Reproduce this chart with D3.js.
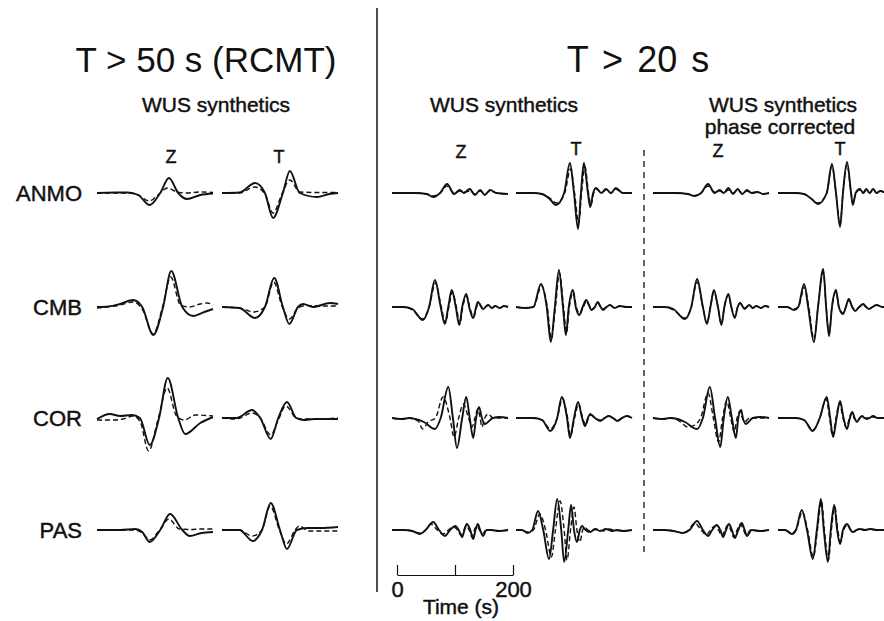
<!DOCTYPE html>
<html>
<head>
<meta charset="utf-8">
<script src="https://cdn.jsdelivr.net/npm/d3@7"></script>
<style>
  body { margin: 0; background: #fff; }
  svg { display: block; }
  text { font-family: "Liberation Sans", Arial, Helvetica, sans-serif; fill: #111; }
  .heavy { stroke: #111; stroke-width: 0.45px; }
</style>
</head>
<body>
<svg id="fig" width="884" height="621"></svg>
<script>
// Stations (rows) and components (columns within each group)
const stations = ["ANMO", "CMB", "COR", "PAS"];
const components = ["Z", "T"];
const scaleTicks = [0, 100, 200];
const scaleTickLabels = ["0", "", "200"];

// Waveform samples: [time (s), amplitude]; "obs" = data (solid), "syn" = synthetic (dashed)

// ---- T > 50 s (RCMT), WUS synthetics ----
const ANMO_Z_50_obs = [[0,0],[31,0.5],[53,0.5],[71,-2],[91,-12],[109,0],[124,15],[140,0],[155,-6],[178,-2],[200,-0.5]];
const ANMO_Z_50_syn = [[0,0],[31,0],[53,0],[71,-2],[90,-8],[107,-1],[122,5],[138,1],[155,0],[178,1],[200,0.5]];
const ANMO_T_50_obs = [[0,0],[30,0.5],[57,10],[74,0],[88,-25],[105,0],[117,22],[134,0],[164,-4],[185,-1],[200,0]];
const ANMO_T_50_syn = [[0,0],[30,0],[57,6],[74,-1],[88,-20],[104,0],[117,13],[134,1],[164,0.5],[200,0.5]];

const CMB_Z_50_obs = [[0,0],[20,0.5],[40,3],[62,7],[78,0],[97,-28],[114,0],[128,36],[147,0],[166,-9],[185,-5],[200,-2]];
const CMB_Z_50_syn = [[0,-1],[40,2],[62,5],[78,-2],[97,-27],[113,0],[127,30],[144,2],[160,0],[178,3],[190,4],[200,2]];
const CMB_T_50_obs = [[0,0],[30,-1],[57,-11],[74,0],[90,29],[105,0],[116,-17],[131,0],[140,3],[157,0],[186,4],[200,3]];
const CMB_T_50_syn = [[0,0],[30,-1],[55,-5],[74,0],[89,25],[104,0],[116,-12],[131,-1],[145,1.5],[175,1],[200,1]];

const COR_Z_50_obs = [[0,-1],[22,4],[40,2],[60,3],[74,0],[91,-27],[107,0],[122,40],[140,0],[152,-16],[178,-5],[200,1]];
const COR_Z_50_syn = [[0,-2],[30,-2],[45,-1],[62,2],[74,-3],[89,-33],[105,-2],[121,30],[137,2],[150,-2],[170,3],[200,2]];
const COR_T_50_obs = [[0,0],[25,0],[52,8],[66,0],[84,-21],[97,0],[112,16],[128,0],[140,-2],[160,-1],[200,-1]];
const COR_T_50_syn = [[0,0],[25,-1],[52,5],[66,0],[84,-17],[97,-2],[110,12],[128,0],[140,-1],[170,-1],[200,0]];

const PAS_Z_50_obs = [[0,0],[40,0],[66,1],[78,-2],[91,-12],[109,0],[126,16],[147,0],[160,-6],[180,-3],[200,-2]];
const PAS_Z_50_syn = [[0,0],[40,0],[66,0],[78,-3],[91,-10],[108,0],[124,11],[142,1],[160,0.5],[180,1],[200,1]];
const PAS_T_50_obs = [[0,0],[30,0],[53,-11],[69,0],[84,27],[100,0],[112,-19],[129,0],[147,2],[170,2],[200,3]];
const PAS_T_50_syn = [[0,0],[30,0],[52,-6],[69,0],[83,24],[99,0],[111,-14],[126,0],[133,4],[150,-1],[200,-1]];

// ---- T > 20 s, WUS synthetics ----
const ANMO_Z_20_obs = [[0,0],[40,0],[60,-1],[71,-4],[83,0],[95,9],[107,-1],[117,3],[124,0],[134,4],[143,-2],[152,3],[160,-2],[169,3],[180,0],[200,-1]];
const ANMO_Z_20_syn = [[0,0],[40,0],[60,-1],[71,-3],[83,0],[95,7],[107,0],[117,2],[124,1],[134,2],[143,-1],[152,2],[160,-1],[169,2],[180,0],[200,-1]];
const ANMO_T_20_obs = [[0,0],[30,0],[45,-1],[58,-6],[69,-12],[83,0],[93,30],[100,0],[107,-36],[112,0],[117,30],[124,0],[128,-14],[133,0],[138,5],[147,0],[155,4],[164,0],[172,5],[184,0],[200,0]];
const ANMO_T_20_syn = [[0,0],[30,0],[45,-1],[58,-5],[70,-10],[84,0],[94,24],[101,0],[108,-30],[113,0],[119,26],[125,0],[129,-12],[134,0],[139,4],[147,0],[155,3],[164,0],[172,4],[184,0],[200,0]];

const CMB_Z_20_obs = [[0,0],[20,0],[35,-2],[53,-13],[64,0],[74,27],[84,0],[91,-17],[97,0],[103,17],[110,0],[116,-18],[121,0],[128,13],[133,0],[140,-11],[145,0],[148,5],[157,-2],[166,2],[172,-1],[178,1],[186,-1],[193,1],[200,0]];
const CMB_Z_20_syn = [[0,0],[20,0],[35,-3],[53,-12],[64,0],[75,24],[85,0],[92,-16],[98,0],[104,15],[111,0],[117,-17],[122,0],[129,11],[134,0],[141,-10],[146,0],[149,4],[157,-1],[166,2],[172,-1],[178,1],[186,-1],[193,1],[200,0]];
const CMB_T_20_obs = [[0,0],[15,-1],[30,0],[43,23],[53,0],[60,-35],[67,0],[74,37],[81,0],[86,-28],[91,0],[98,17],[103,0],[109,-8],[115,0],[121,7],[127,0],[130,-3],[136,0],[141,5],[146,0],[150,-3],[156,0],[162,2],[170,-1],[179,1],[190,0],[200,0]];
const CMB_T_20_syn = [[0,0],[15,-1],[30,0],[44,21],[54,0],[61,-32],[68,0],[75,34],[82,0],[87,-26],[92,0],[99,15],[104,0],[110,-7],[116,0],[122,6],[128,0],[131,-2],[136,0],[141,4],[146,0],[150,-2],[156,0],[162,2],[170,-1],[179,1],[190,0],[200,0]];

const COR_Z_20_obs = [[0,0],[17,-1],[30,0],[40,-1],[55,-4],[74,-11],[84,0],[97,31],[105,0],[112,-30],[121,0],[128,21],[134,0],[140,-20],[145,0],[150,11],[155,0],[160,-6],[174,0],[185,1],[200,0]];
const COR_Z_20_syn = [[0,0],[17,-1],[30,0],[45,-3],[53,-11],[62,-4],[75,0],[88,21],[100,0],[107,-19],[115,0],[123,14],[132,0],[138,-9],[143,0],[148,9],[152,0],[155,-9],[160,0],[166,4],[174,0],[200,0]];
const COR_T_20_obs = [[0,0],[30,0],[45,-2],[59,-13],[71,0],[79,21],[88,0],[93,-20],[100,0],[107,16],[114,0],[119,-8],[124,0],[128,4],[136,0],[145,-3],[153,0],[160,2],[167,0],[175,-3],[183,0],[191,2],[200,0]];
const COR_T_20_syn = [[0,0],[30,0],[45,-2],[59,-11],[71,0],[80,19],[89,0],[94,-18],[101,0],[108,14],[115,0],[120,-7],[125,0],[129,3],[136,0],[145,-2],[153,0],[160,2],[167,0],[175,-2],[183,0],[191,2],[200,0]];

const PAS_Z_20_obs = [[0,0],[20,0],[35,-1],[48,-4],[58,0],[71,8],[81,0],[91,-6],[100,0],[109,4],[115,0],[121,-7],[125,0],[129,6],[135,0],[140,-9],[144,0],[148,6],[152,0],[157,-6],[163,0],[170,0],[185,-1],[200,0]];
const PAS_Z_20_syn = [[0,0],[20,0],[35,-1],[48,-3],[58,0],[67,6],[78,0],[88,-4],[97,0],[106,3],[113,0],[119,-5],[124,0],[127,4],[133,0],[138,-7],[142,0],[146,4],[151,0],[156,-4],[162,0],[170,0],[185,-1],[200,0]];
const PAS_T_20_obs = [[0,0],[10,0],[20,-3],[28,0],[38,19],[47,0],[57,-29],[64,0],[71,31],[78,0],[83,-32],[90,0],[95,25],[100,0],[105,-12],[110,0],[114,4],[120,0],[128,-2],[136,1],[145,-1],[155,1],[165,-1],[175,0],[185,-1],[200,0]];
const PAS_T_20_syn = [[0,0],[10,0],[20,-2],[30,0],[41,16],[51,0],[61,-27],[68,0],[76,29],[83,0],[88,-30],[94,0],[100,23],[105,0],[110,-12],[115,0],[118,3],[124,0],[130,-1],[140,1],[150,-1],[160,1],[170,0],[185,-1],[200,0]];

// ---- T > 20 s, WUS synthetics phase corrected ----
const ANMO_Z_pc_obs = [[0,0],[40,0],[60,-1],[71,-3],[83,0],[95,9],[106,0],[115,3],[122,0],[130,5],[138,-1],[146,4],[154,-1],[162,3],[170,0],[180,1],[190,-1],[200,0]];
const ANMO_Z_pc_syn = [[0,0],[40,0],[60,-1],[71,-3],[83,0],[95,7],[106,1],[115,2],[122,0],[130,3],[138,0],[146,3],[154,-1],[162,2],[170,0],[180,1],[190,-1],[200,0]];
const ANMO_T_pc_obs = [[0,0],[30,0],[45,-1],[58,-6],[69,-11],[84,0],[93,29],[100,0],[107,-34],[112,0],[119,31],[126,0],[129,-12],[134,0],[141,4],[147,0],[152,4],[158,0],[164,4],[170,0],[176,2],[185,0]];
const ANMO_T_pc_syn = [[0,0],[30,0],[45,-1],[58,-6],[69,-10],[84,0],[93,27],[100,0],[107,-32],[112,0],[119,28],[126,0],[129,-11],[134,0],[141,3],[147,0],[152,3],[158,0],[164,3],[170,0],[176,2],[185,0]];

const CMB_Z_pc_obs = [[0,0],[20,0],[35,-2],[55,-12],[66,0],[76,28],[86,0],[93,-17],[99,0],[105,17],[112,0],[118,-18],[123,0],[130,13],[135,0],[141,-11],[146,0],[150,4],[158,-2],[166,2],[172,-1],[178,1],[186,-1],[193,1],[200,0]];
const CMB_Z_pc_syn = [[0,0],[20,0],[35,-3],[55,-11],[66,0],[76,25],[86,0],[93,-16],[99,0],[105,15],[112,0],[118,-17],[123,0],[130,12],[135,0],[141,-10],[146,0],[150,4],[158,-1],[166,2],[172,-1],[178,1],[186,-1],[193,1],[200,0]];
const CMB_T_pc_obs = [[0,0],[15,0],[28,-3],[35,0],[45,23],[52,0],[62,-35],[69,0],[78,38],[83,0],[88,-29],[93,0],[100,17],[105,0],[112,-7],[117,0],[122,8],[128,0],[133,-4],[140,0],[147,3],[152,0],[157,-2],[163,0],[170,2],[180,0],[185,0]];
const CMB_T_pc_syn = [[0,0],[15,0],[28,-2],[35,0],[46,20],[53,0],[62,-32],[69,0],[78,35],[83,0],[88,-27],[93,0],[100,15],[105,0],[112,-6],[117,0],[122,7],[128,0],[133,-3],[140,0],[147,2],[152,0],[157,-2],[163,0],[170,2],[180,0],[185,0]];

const COR_Z_pc_obs = [[0,0],[17,-1],[30,0],[42,-1],[55,-4],[76,-11],[86,0],[98,31],[107,0],[116,-29],[122,0],[129,21],[136,0],[143,-20],[147,0],[152,8],[155,0],[160,-6],[172,0],[185,1],[200,0]];
const COR_Z_pc_syn = [[0,0],[17,-1],[30,0],[45,-3],[60,-9],[72,-7],[82,0],[95,25],[104,0],[113,-24],[120,0],[127,17],[134,0],[140,-14],[145,0],[150,7],[154,0],[158,-4],[166,0],[200,0]];
const COR_T_pc_obs = [[0,0],[30,0],[45,-2],[60,-13],[72,0],[84,21],[90,0],[95,-19],[101,0],[107,17],[113,0],[119,-11],[124,0],[128,6],[132,0],[136,-4],[141,0],[145,2],[149,0],[153,-1],[158,0],[164,2],[172,0],[185,0]];
const COR_T_pc_syn = [[0,0],[30,0],[45,-2],[60,-12],[72,0],[83,19],[89,0],[94,-18],[100,0],[106,15],[112,0],[118,-10],[123,0],[127,5],[131,0],[136,-3],[141,0],[145,2],[150,0],[158,0],[164,1],[172,0],[185,0]];

const PAS_Z_pc_obs = [[0,0],[20,0],[35,-1],[52,-3],[63,0],[76,9],[86,0],[95,-6],[102,0],[110,5],[116,0],[121,-7],[126,0],[131,6],[136,0],[141,-8],[147,0],[153,7],[158,0],[162,-6],[170,0],[185,-1],[200,0]];
const PAS_Z_pc_syn = [[0,0],[20,0],[35,-1],[50,-3],[61,0],[72,7],[83,0],[92,-5],[99,0],[107,4],[113,0],[119,-6],[124,0],[129,5],[134,0],[139,-7],[145,0],[151,6],[156,0],[161,-5],[168,0],[185,-1],[200,0]];
const PAS_T_pc_obs = [[0,0],[12,0],[24,-4],[31,0],[41,20],[50,0],[60,-29],[67,0],[74,31],[79,0],[86,-32],[91,0],[97,25],[102,0],[107,-14],[112,0],[119,6],[125,0],[129,-2],[135,0],[141,1],[150,0],[159,1],[170,0],[185,0]];
const PAS_T_pc_syn = [[0,0],[12,0],[24,-3],[31,0],[42,18],[51,0],[61,-27],[68,0],[75,29],[80,0],[87,-30],[92,0],[98,23],[103,0],[108,-12],[113,0],[120,5],[126,0],[130,-2],[136,0],[141,1],[150,0],[159,1],[170,0],[185,0]];

// Lookup table built from the arrays above
const traceSets = {
  "50": {
    ANMO: { Z: [ANMO_Z_50_obs, ANMO_Z_50_syn], T: [ANMO_T_50_obs, ANMO_T_50_syn] },
    CMB:  { Z: [CMB_Z_50_obs,  CMB_Z_50_syn],  T: [CMB_T_50_obs,  CMB_T_50_syn] },
    COR:  { Z: [COR_Z_50_obs,  COR_Z_50_syn],  T: [COR_T_50_obs,  COR_T_50_syn] },
    PAS:  { Z: [PAS_Z_50_obs,  PAS_Z_50_syn],  T: [PAS_T_50_obs,  PAS_T_50_syn] }
  },
  "20": {
    ANMO: { Z: [ANMO_Z_20_obs, ANMO_Z_20_syn], T: [ANMO_T_20_obs, ANMO_T_20_syn] },
    CMB:  { Z: [CMB_Z_20_obs,  CMB_Z_20_syn],  T: [CMB_T_20_obs,  CMB_T_20_syn] },
    COR:  { Z: [COR_Z_20_obs,  COR_Z_20_syn],  T: [COR_T_20_obs,  COR_T_20_syn] },
    PAS:  { Z: [PAS_Z_20_obs,  PAS_Z_20_syn],  T: [PAS_T_20_obs,  PAS_T_20_syn] }
  },
  "pc": {
    ANMO: { Z: [ANMO_Z_pc_obs, ANMO_Z_pc_syn], T: [ANMO_T_pc_obs, ANMO_T_pc_syn] },
    CMB:  { Z: [CMB_Z_pc_obs,  CMB_Z_pc_syn],  T: [CMB_T_pc_obs,  CMB_T_pc_syn] },
    COR:  { Z: [COR_Z_pc_obs,  COR_Z_pc_syn],  T: [COR_T_pc_obs,  COR_T_pc_syn] },
    PAS:  { Z: [PAS_Z_pc_obs,  PAS_Z_pc_syn],  T: [PAS_T_pc_obs,  PAS_T_pc_syn] }
  }
};

// ---------- layout ----------
const svg = d3.select("#fig");
const rowY = { ANMO: 193, CMB: 307, COR: 418, PAS: 530 };
const panelX = {
  "50": { Z: 97,  T: 222 },
  "20": { Z: 392, T: 516 },
  "pc": { Z: 653, T: 778 }
};

const tScale = d3.scaleLinear().domain([0, 200]).range([0, 116]);
const aScale = d3.scaleLinear().domain([-40, 40]).range([40, -40]);
const trace = d3.line()
  .x(d => tScale(d[0]))
  .y(d => aScale(d[1]))
  .curve(d3.curveMonotoneX);

// seismogram pairs: dashed synthetic under solid data
Object.keys(traceSets).forEach(group => {
  stations.forEach(st => {
    components.forEach(comp => {
      const [obs, syn] = traceSets[group][st][comp];
      const g = svg.append("g")
        .attr("transform", `translate(${panelX[group][comp]},${rowY[st]})`);
      g.append("path").attr("d", trace(syn))
        .attr("fill", "none").attr("stroke", "#111")
        .attr("stroke-width", 1.4).attr("stroke-dasharray", "5,3");
      g.append("path").attr("d", trace(obs))
        .attr("fill", "none").attr("stroke", "#111")
        .attr("stroke-width", 1.9).attr("stroke-linejoin", "round");
    });
  });
});

// station names
stations.forEach(st => {
  svg.append("text").attr("class", "heavy")
    .attr("x", 82).attr("y", rowY[st] + 8)
    .attr("text-anchor", "end").attr("font-size", 22).text(st);
});

// separators
svg.append("line").attr("x1", 377).attr("x2", 377).attr("y1", 8).attr("y2", 592)
  .attr("stroke", "#111").attr("stroke-width", 1.5);
svg.append("line").attr("x1", 644).attr("x2", 644).attr("y1", 150).attr("y2", 553)
  .attr("stroke", "#111").attr("stroke-width", 1.3).attr("stroke-dasharray", "6,5");

// titles
svg.append("text").attr("x", 206).attr("y", 72).attr("text-anchor", "middle")
  .attr("font-size", 35).text("T > 50 s (RCMT)");
svg.append("text").attr("x", 638).attr("y", 72).attr("text-anchor", "middle")
  .attr("font-size", 36).attr("word-spacing", 4).text("T > 20 s");

const sub = (x, y, s) => svg.append("text").attr("class", "heavy")
  .attr("x", x).attr("y", y)
  .attr("text-anchor", "middle").attr("font-size", 21).text(s);
sub(216, 112, "WUS synthetics");
sub(504, 112, "WUS synthetics");
sub(783, 112, "WUS synthetics");
sub(780, 134, "phase corrected");

// component labels
const compLabels = [
  { x: 171, y: 163, s: "Z" }, { x: 279, y: 163, s: "T" },
  { x: 461, y: 158, s: "Z" }, { x: 576, y: 155, s: "T" },
  { x: 718, y: 157, s: "Z" }, { x: 840, y: 155, s: "T" }
];
compLabels.forEach(c => svg.append("text").attr("class", "heavy")
  .attr("x", c.x).attr("y", c.y)
  .attr("text-anchor", "middle").attr("font-size", 18).text(c.s));

// time scale bar
const bar = svg.append("g").attr("transform", "translate(397,575)")
  .call(d3.axisBottom(tScale)
    .tickValues(scaleTicks)
    .tickFormat((d, i) => scaleTickLabels[i])
    .tickSizeInner(-10).tickSizeOuter(0).tickPadding(6));
bar.select(".domain").attr("stroke", "#111").attr("stroke-width", 1.2);
bar.selectAll(".tick line").attr("stroke", "#111").attr("stroke-width", 1.2);
bar.selectAll(".tick text").attr("class", "heavy").attr("font-size", 22)
  .attr("font-family", null).attr("fill", "#111");
svg.append("text").attr("class", "heavy").attr("x", 461).attr("y", 614)
  .attr("text-anchor", "middle").attr("font-size", 21).text("Time (s)");
</script>
</body>
</html>
